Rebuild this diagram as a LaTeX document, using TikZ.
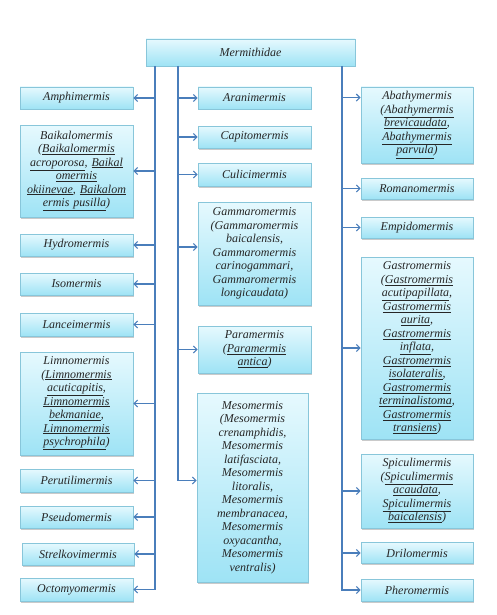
\documentclass[tikz,border=0pt]{standalone}
\usepackage{fontspec}
\setmainfont{Liberation Serif}
\usetikzlibrary{shadows,arrows.meta}
\definecolor{boxtop}{HTML}{E6F9FE}
\definecolor{boxbot}{HTML}{9EE3F5}
\definecolor{boxline}{HTML}{88C6DA}
\definecolor{conncol}{HTML}{4A7EBB}
\newcommand\us[1]{\underline{#1}}
\newcommand\boxfont{\itshape\fontsize{12}{13.5}\selectfont\lineskiplimit=-8pt\relax\lineskip=0pt\relax}
\tikzset{
  box/.style={draw=boxline, line width=0.8pt, top color=boxtop, bottom color=boxbot,
    drop shadow={shadow xshift=1.3pt, shadow yshift=-1.5pt, opacity=0.35, fill=black!60},
    align=center, inner xsep=1pt, inner ysep=0pt, text=black!85,
    font=\boxfont},
  conn/.style={draw=conncol, line width=1.3pt},
  arr/.style={conn, -{Straight Barb[length=3.5pt,width=7pt,line width=1.1pt]}}
}
\begin{document}
\begin{tikzpicture}[x=1pt,y=-1pt]
\useasboundingbox (0,0) rectangle (497,615);
% root
\node[box, minimum width=209pt, minimum height=27pt] (root) at (250.5,52.5) {Mermithidae};
% left column
\node[box, minimum width=113pt, text width=111pt, minimum height=22pt] (amph) at (76.5,98) {Amphimermis};
\node[box, minimum width=113pt, text width=111pt, minimum height=92pt] (baik) at (76.5,171) {Baikalomermis\\(\us{Baikalomermis}\\\us{acroporosa}, \us{Baikal}\\\us{omermis}\\\us{okiinevae}, \us{Baikalom}\\\us{ermis pusilla})};
\node[box, minimum width=113pt, text width=111pt, minimum height=22pt] (hydro) at (76.5,245) {Hydromermis};
\node[box, minimum width=113pt, text width=111pt, minimum height=22pt] (iso) at (76.5,284) {Isomermis};
\node[box, minimum width=113pt, text width=111pt, minimum height=23pt] (lance) at (76.5,324.5) {Lanceimermis};
\node[box, minimum width=113pt, text width=111pt, minimum height=103pt] (limno) at (76.5,403.5) {Limnomermis\\(\us{Limnomermis}\\\us{acuticapitis},\\\us{Limnomermis}\\\us{bekmaniae},\\\us{Limnomermis}\\\us{psychrophila})};
\node[box, minimum width=113pt, text width=111pt, minimum height=23pt] (peru) at (76.5,480.5) {Perutilimermis};
\node[box, minimum width=113pt, text width=111pt, minimum height=22pt] (pseudo) at (76.5,517) {Pseudomermis};
\node[box, minimum width=112pt, text width=110pt, minimum height=22pt] (strel) at (78,554) {Strelkovimermis};
\node[box, minimum width=113pt, text width=111pt, minimum height=23pt] (octo) at (76.5,589.5) {Octomyomermis};
% middle column
\node[box, minimum width=113pt, text width=111pt, minimum height=22pt] (aran) at (254.5,98) {Aranimermis};
\node[box, minimum width=113pt, text width=111pt, minimum height=22pt] (capit) at (254.5,137) {Capitomermis};
\node[box, minimum width=113pt, text width=111pt, minimum height=23pt] (culic) at (254.5,174.5) {Culicimermis};
\node[box, minimum width=113pt, text width=111pt, minimum height=103pt] (gamma) at (254.5,253.5) {Gammaromermis\\(Gammaromermis\\baicalensis,\\Gammaromermis\\carinogammari,\\Gammaromermis\\longicaudata)};
\node[box, minimum width=113pt, text width=111pt, minimum height=47pt] (param) at (254.5,349.5) {Paramermis\\(\us{Paramermis}\\\us{antica})};
\node[box, minimum width=111pt, text width=109pt, minimum height=189pt] (meso) at (252.5,487.5) {Mesomermis\\(Mesomermis\\crenamphidis,\\Mesomermis\\latifasciata,\\Mesomermis\\litoralis,\\Mesomermis\\membranacea,\\Mesomermis\\oxyacantha,\\Mesomermis\\ventralis)};
% right column
\node[box, minimum width=112pt, text width=110pt, minimum height=76pt] (abat) at (417,125) {Abathymermis\\(\us{Abathymermis}\\\us{brevicaudata},\\\us{Abathymermis}\\\us{parvula})};
\node[box, minimum width=112pt, text width=110pt, minimum height=21pt] (roman) at (417,188.5) {Romanomermis};
\node[box, minimum width=112pt, text width=110pt, minimum height=21pt] (empid) at (417,227.5) {Empidomermis};
\node[box, minimum width=112pt, text width=110pt, minimum height=182pt] (gastro) at (417,348) {Gastromermis\\(\us{Gastromermis}\\\us{acutipapillata},\\\us{Gastromermis}\\\us{aurita},\\\us{Gastromermis}\\\us{inflata},\\\us{Gastromermis}\\\us{isolateralis},\\\us{Gastromermis}\\\us{terminalistoma},\\\us{Gastromermis}\\\us{transiens})};
\node[box, minimum width=112pt, text width=110pt, minimum height=74pt] (spicu) at (417,491) {Spiculimermis\\(\us{Spiculimermis}\\\us{acaudata},\\\us{Spiculimermis}\\\us{baicalensis})};
\node[box, minimum width=112pt, text width=110pt, minimum height=21pt] (drilo) at (417,553) {Drilomermis};
\node[box, minimum width=112pt, text width=110pt, minimum height=22pt] (phero) at (417,590) {Pheromermis};
% trunk start points on root bottom edge
\coordinate (lft) at (155,66);
\coordinate (mid) at (178,66);
\coordinate (rgt) at (342,66);
\coordinate (gammaIn) at ([yshift=6.5pt]gamma.west);
\coordinate (mesoIn) at ([yshift=7pt]meso.west);
\coordinate (abatIn) at ([yshift=-11pt]abat.north west);
% left trunk
\draw[arr] (lft) |- (octo.east);
\foreach \n in {amph,baik,hydro,iso,lance,limno,peru,pseudo,strel}
  \draw[arr] (lft |- \n.east) -- (\n.east);
% middle trunk
\draw[arr] (mid) |- (mesoIn);
\foreach \n in {aran,capit,culic,param}
  \draw[arr] (mid |- \n.west) -- (\n.west);
\draw[arr] (mid |- gammaIn) -- (gammaIn);
% right trunk
\draw[arr] (rgt) |- (phero.west);
\draw[arr] (rgt |- abatIn) -- (abatIn);
\foreach \n in {roman,empid,gastro,spicu,drilo}
  \draw[arr] (rgt |- \n.west) -- (\n.west);
\end{tikzpicture}
\end{document}
